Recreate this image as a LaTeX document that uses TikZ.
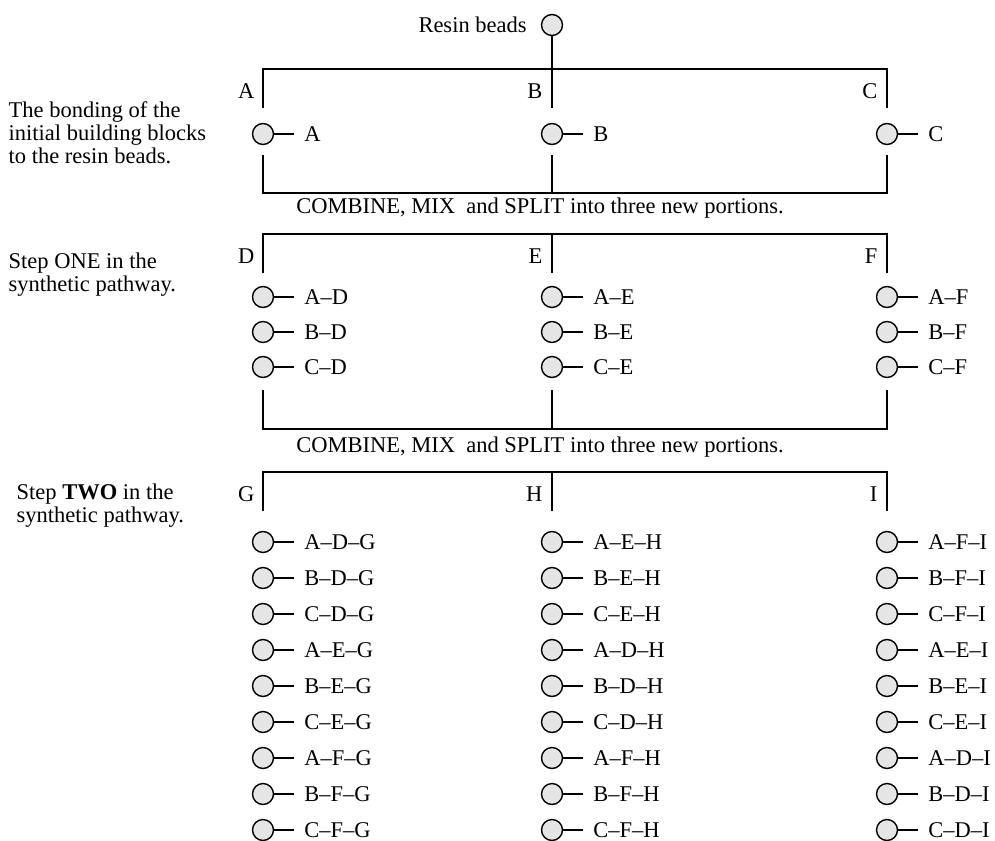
\documentclass[tikz,border=0pt]{standalone}
\usepackage{fontspec}
\setmainfont{Liberation Serif}
\usetikzlibrary{positioning}

\begin{document}
\begin{tikzpicture}[
    x=0.5pt, y=-0.5pt,
    line width=0.7pt,
    node distance=14.75pt,
    font=\fontsize{11.25}{11.5}\selectfont,
    bead/.style={circle, draw, fill=black!10, minimum size=10.5pt, inner sep=0pt},
    tag/.style={inner sep=0pt},
    stub/.style={shorten >=5pt},
    colname/.style={anchor=east, inner sep=0pt},
    note/.style={anchor=west, align=left, inner sep=0pt}
  ]
    \useasboundingbox (0,0) rectangle (995,840);

    % resin beads on top
    \node[bead] (resin) at (552,25) {};
    \node[tag, left=6.75pt of resin] (resinlbl) {Resin beads};

    % side notes
    \node[note] (note1) at (8,133) {The bonding of the\\initial building blocks\\to the resin beads.};
    \node[note] (note2) at (8,275) {Step ONE in the\\synthetic pathway.};
    \node[note] (note3) at (16,506) {Step \textbf{TWO} in the\\synthetic pathway.};

    % first split
    \coordinate (t1A) at (263,69);  \coordinate (t1C) at (887,69);
    \coordinate (e1A) at (263,108); \coordinate (e1B) at (552,108); \coordinate (e1C) at (887,108);
    \draw (e1A) -- (t1A) -- (t1C) -- (e1C);
    \draw (resin) -- (e1B);
    \node[colname] (hA) at (255,91) {A};
    \node[colname] (hB) at (543,91) {B};
    \node[colname] (hC) at (878,91) {C};
    \foreach \c/\x in {A/263, B/552, C/887} {
      \node[bead] (b\c) at (\x,134) {};
      \node[tag, right=of b\c] (l\c) {\c};
      \draw[stub] (b\c) -- (l\c);
    }
    \coordinate (f1A) at (263,155); \coordinate (f1B) at (552,155); \coordinate (f1C) at (887,155);
    \coordinate (g1A) at (263,193); \coordinate (g1B) at (552,193); \coordinate (g1C) at (887,193);
    \draw (f1A) -- (g1A) -- (g1C) -- (f1C);
    \draw (f1B) -- (g1B);

    \node[tag] (mix1) at (540,208) {COMBINE, MIX\ \ and SPLIT into three new portions.};

    % step one
    \coordinate (t2A) at (263,234); \coordinate (t2B) at (552,234); \coordinate (t2C) at (887,234);
    \coordinate (e2A) at (263,273); \coordinate (e2B) at (552,273); \coordinate (e2C) at (887,273);
    \draw (e2A) -- (t2A) -- (t2C) -- (e2C);
    \draw (t2B) -- (e2B);
    \node[colname] (hD) at (255,256) {D};
    \node[colname] (hE) at (543,256) {E};
    \node[colname] (hF) at (878,256) {F};
    \foreach \c/\x in {D/263, E/552, F/887} {
      \foreach \a [count=\i from 0] in {A,B,C} {
        \pgfmathsetmacro\yy{297+35*\i}
        \node[bead] (b\a\c) at (\x,\yy) {};
        \node[tag, right=of b\a\c] (l\a\c) {\a--\c};
        \draw[stub] (b\a\c) -- (l\a\c);
      }
    }
    \coordinate (f2A) at (263,390); \coordinate (f2B) at (552,390); \coordinate (f2C) at (887,390);
    \coordinate (g2A) at (263,429); \coordinate (g2B) at (552,429); \coordinate (g2C) at (887,429);
    \draw (f2A) -- (g2A) -- (g2C) -- (f2C);
    \draw (f2B) -- (g2B);

    \node[tag] (mix2) at (540,447) {COMBINE, MIX\ \ and SPLIT into three new portions.};

    % step two
    \coordinate (t3A) at (263,472); \coordinate (t3B) at (552,472); \coordinate (t3C) at (887,472);
    \coordinate (e3A) at (263,511); \coordinate (e3B) at (552,511); \coordinate (e3C) at (887,511);
    \draw (e3A) -- (t3A) -- (t3C) -- (e3C);
    \draw (t3B) -- (e3B);
    \node[colname] (hG) at (255,494) {G};
    \node[colname] (hH) at (543,494) {H};
    \node[colname] (hI) at (878,494) {I};
    \foreach \c/\x/\m in {G/263/{D,E,F}, H/552/{E,D,F}, I/887/{F,E,D}} {
      \foreach \d [count=\j from 0] in \m {
        \foreach \a [count=\i from 0] in {A,B,C} {
          \pgfmathsetmacro\yy{542+36*(3*\j+\i)}
          \node[bead] (b\a\d\c) at (\x,\yy) {};
          \node[tag, right=of b\a\d\c] (l\a\d\c) {\a--\d--\c};
          \draw[stub] (b\a\d\c) -- (l\a\d\c);
        }
      }
    }
  \end{tikzpicture}
\end{document}
